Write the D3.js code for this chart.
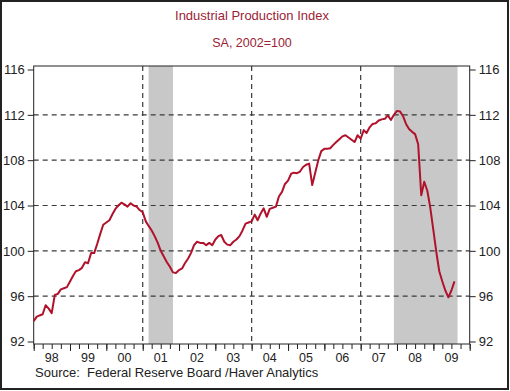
<!DOCTYPE html>
<html>
<head>
<meta charset="utf-8">
<script src="https://cdn.jsdelivr.net/npm/d3@7"></script>
<style>
  body { margin: 0; background: #fff; }
  svg { display: block; font-family: "Liberation Sans", Arial, sans-serif; }
</style>
</head>
<body>
<svg id="chart" width="510" height="391"></svg>
<script>
// Industrial production index, monthly, Jan 1998 - Aug 2009 (SA, 2002=100)
const startMonth = "1998-01";
const ipValues = [
  93.8, 94.2, 94.3, 94.4, 95.2, 94.9, 94.5, 96.1, 96.2, 96.6, 96.7, 96.8, // 98
  97.3, 97.8, 98.2, 98.3, 98.5, 99.0, 98.9, 99.8, 99.8, 100.6, 101.5, 102.3, // 99
  102.5, 102.7, 103.2, 103.7, 104.0, 104.25, 104.1, 103.9, 104.2, 104.0, 103.9, 103.6, // 00
  103.4, 102.6, 102.2, 101.8, 101.3, 100.7, 100.0, 99.5, 99.0, 98.6, 98.1, 98.05, // 01
  98.3, 98.45, 98.9, 99.3, 99.8, 100.5, 100.8, 100.7, 100.7, 100.5, 100.7, 100.5, // 02
  101.0, 101.3, 101.4, 100.8, 100.55, 100.5, 100.8, 101.0, 101.3, 101.8, 102.4, 102.5, // 03
  102.6, 103.2, 102.7, 103.3, 103.75, 103.0, 103.7, 103.8, 103.9, 104.8, 105.2, 105.9, // 04
  106.2, 106.8, 106.9, 106.85, 107.0, 107.4, 107.6, 107.7, 105.8, 106.9, 108.0, 108.8, // 05
  109.0, 109.0, 109.05, 109.35, 109.6, 109.85, 110.1, 110.2, 110.0, 109.8, 109.6, 110.2, // 06
  109.9, 110.65, 110.4, 110.9, 111.2, 111.25, 111.5, 111.6, 111.65, 111.95, 111.55, 112.0, // 07
  112.35, 112.3, 111.9, 111.2, 110.75, 110.5, 110.3, 109.4, 104.9, 106.1, 105.3, 103.8, // 08
  101.8, 99.8, 98.2, 97.3, 96.5, 95.9, 96.5, 97.3 // 09
];

// recession shading periods
const recessions = [
  { start: "2001-03", end: "2001-11" },
  { start: "2007-12", end: "2009-09" }
];

const yTicks = [92, 96, 100, 104, 108, 112, 116];
const yGrid = [96, 100, 104, 108, 112];
const xGridYears = [2001, 2004, 2007];
const xLabelYears = d3.range(1998, 2010);

const parseMonth = d3.timeParse("%Y-%m");
const t0 = parseMonth(startMonth);
const data = ipValues.map((v, i) => ({ date: d3.timeMonth.offset(t0, i), value: v }));

const svg = d3.select("#chart");
const plotLeft = 33.7, plotRight = 469.7, plotTop = 66, plotBottom = 344;

const x = d3.scaleTime()
  .domain([new Date(1998, 0, 1), new Date(2010, 0, 1)])
  .range([plotLeft, plotRight]);
const y = d3.scaleLinear()
  .domain([91.78, 116.31])
  .range([plotBottom, plotTop]);

// outer border
svg.append("rect")
  .attr("x", 1).attr("y", 1).attr("width", 507).attr("height", 388)
  .attr("fill", "none").attr("stroke", "#222").attr("stroke-width", 2);

// titles
svg.append("text").attr("x", 252).attr("y", 20).attr("text-anchor", "middle")
  .attr("font-size", 13).attr("fill", "#9b2335").text("Industrial Production Index");
svg.append("text").attr("x", 252).attr("y", 47).attr("text-anchor", "middle")
  .attr("font-size", 12.5).attr("fill", "#9b2335").text("SA, 2002=100");

// recession bars
svg.append("g").selectAll("rect")
  .data(recessions)
  .join("rect")
  .attr("x", d => x(parseMonth(d.start)))
  .attr("width", d => x(parseMonth(d.end)) - x(parseMonth(d.start)))
  .attr("y", plotTop)
  .attr("height", plotBottom - plotTop)
  .attr("fill", "#c8c8c8");

// dashed grid
const grid = svg.append("g")
  .attr("stroke", "#3a3a3a").attr("stroke-width", 1.2).attr("stroke-dasharray", "5,4");
grid.selectAll(".hg").data(yGrid).join("line")
  .attr("x1", plotLeft).attr("x2", plotRight)
  .attr("y1", d => y(d)).attr("y2", d => y(d));
grid.selectAll(".vg").data(xGridYears).join("line")
  .attr("x1", d => x(new Date(d, 0, 1))).attr("x2", d => x(new Date(d, 0, 1)))
  .attr("y1", plotTop).attr("y2", plotBottom);

// frame
svg.append("rect")
  .attr("x", plotLeft).attr("y", plotTop)
  .attr("width", plotRight - plotLeft).attr("height", plotBottom - plotTop)
  .attr("fill", "none").attr("stroke", "#222").attr("stroke-width", 1);

// y axes
const yLeft = svg.append("g")
  .attr("transform", `translate(${plotLeft},0)`)
  .call(d3.axisLeft(y).tickValues(yTicks).tickSize(6).tickPadding(3).tickFormat(d3.format("d")));
const yRight = svg.append("g")
  .attr("transform", `translate(${plotRight},0)`)
  .call(d3.axisRight(y).tickValues(yTicks).tickSize(6).tickPadding(3).tickFormat(d3.format("d")));
[yLeft, yRight].forEach(g => {
  g.select(".domain").remove();
  g.selectAll("line").attr("stroke", "#222");
  g.selectAll("text").attr("font-size", 13).attr("fill", "#222")
    .attr("font-family", "'Liberation Sans', Arial, sans-serif");
});

// x axis: quarterly minor ticks, yearly major ticks
const xAxisG = svg.append("g").attr("transform", `translate(0,${plotBottom})`);
xAxisG.append("g")
  .call(d3.axisBottom(x).ticks(d3.timeMonth.every(3)).tickSize(5).tickFormat(""))
  .call(g => g.select(".domain").remove());
xAxisG.append("g")
  .call(d3.axisBottom(x).ticks(d3.timeYear.every(1)).tickSize(7).tickFormat(""))
  .call(g => g.select(".domain").remove());
xAxisG.selectAll("line").attr("stroke", "#222");
xAxisG.append("g").selectAll("text")
  .data(xLabelYears)
  .join("text")
  .attr("x", d => x(new Date(d, 6, 1)))
  .attr("y", 18)
  .attr("text-anchor", "middle")
  .attr("font-size", 12.5)
  .attr("fill", "#222")
  .text(d => d3.timeFormat("%y")(new Date(d, 0, 1)));

// line
const line = d3.line()
  .x(d => x(d.date))
  .y(d => y(d.value));
svg.append("path")
  .datum(data)
  .attr("fill", "none")
  .attr("stroke", "#b0122b")
  .attr("stroke-width", 2)
  .attr("stroke-linejoin", "round")
  .attr("d", line);

// source
svg.append("text").attr("x", 35).attr("y", 377)
  .attr("font-size", 13).attr("fill", "#222")
  .attr("xml:space", "preserve")
  .text("Source:  Federal Reserve Board /Haver Analytics");
</script>
</body>
</html>
